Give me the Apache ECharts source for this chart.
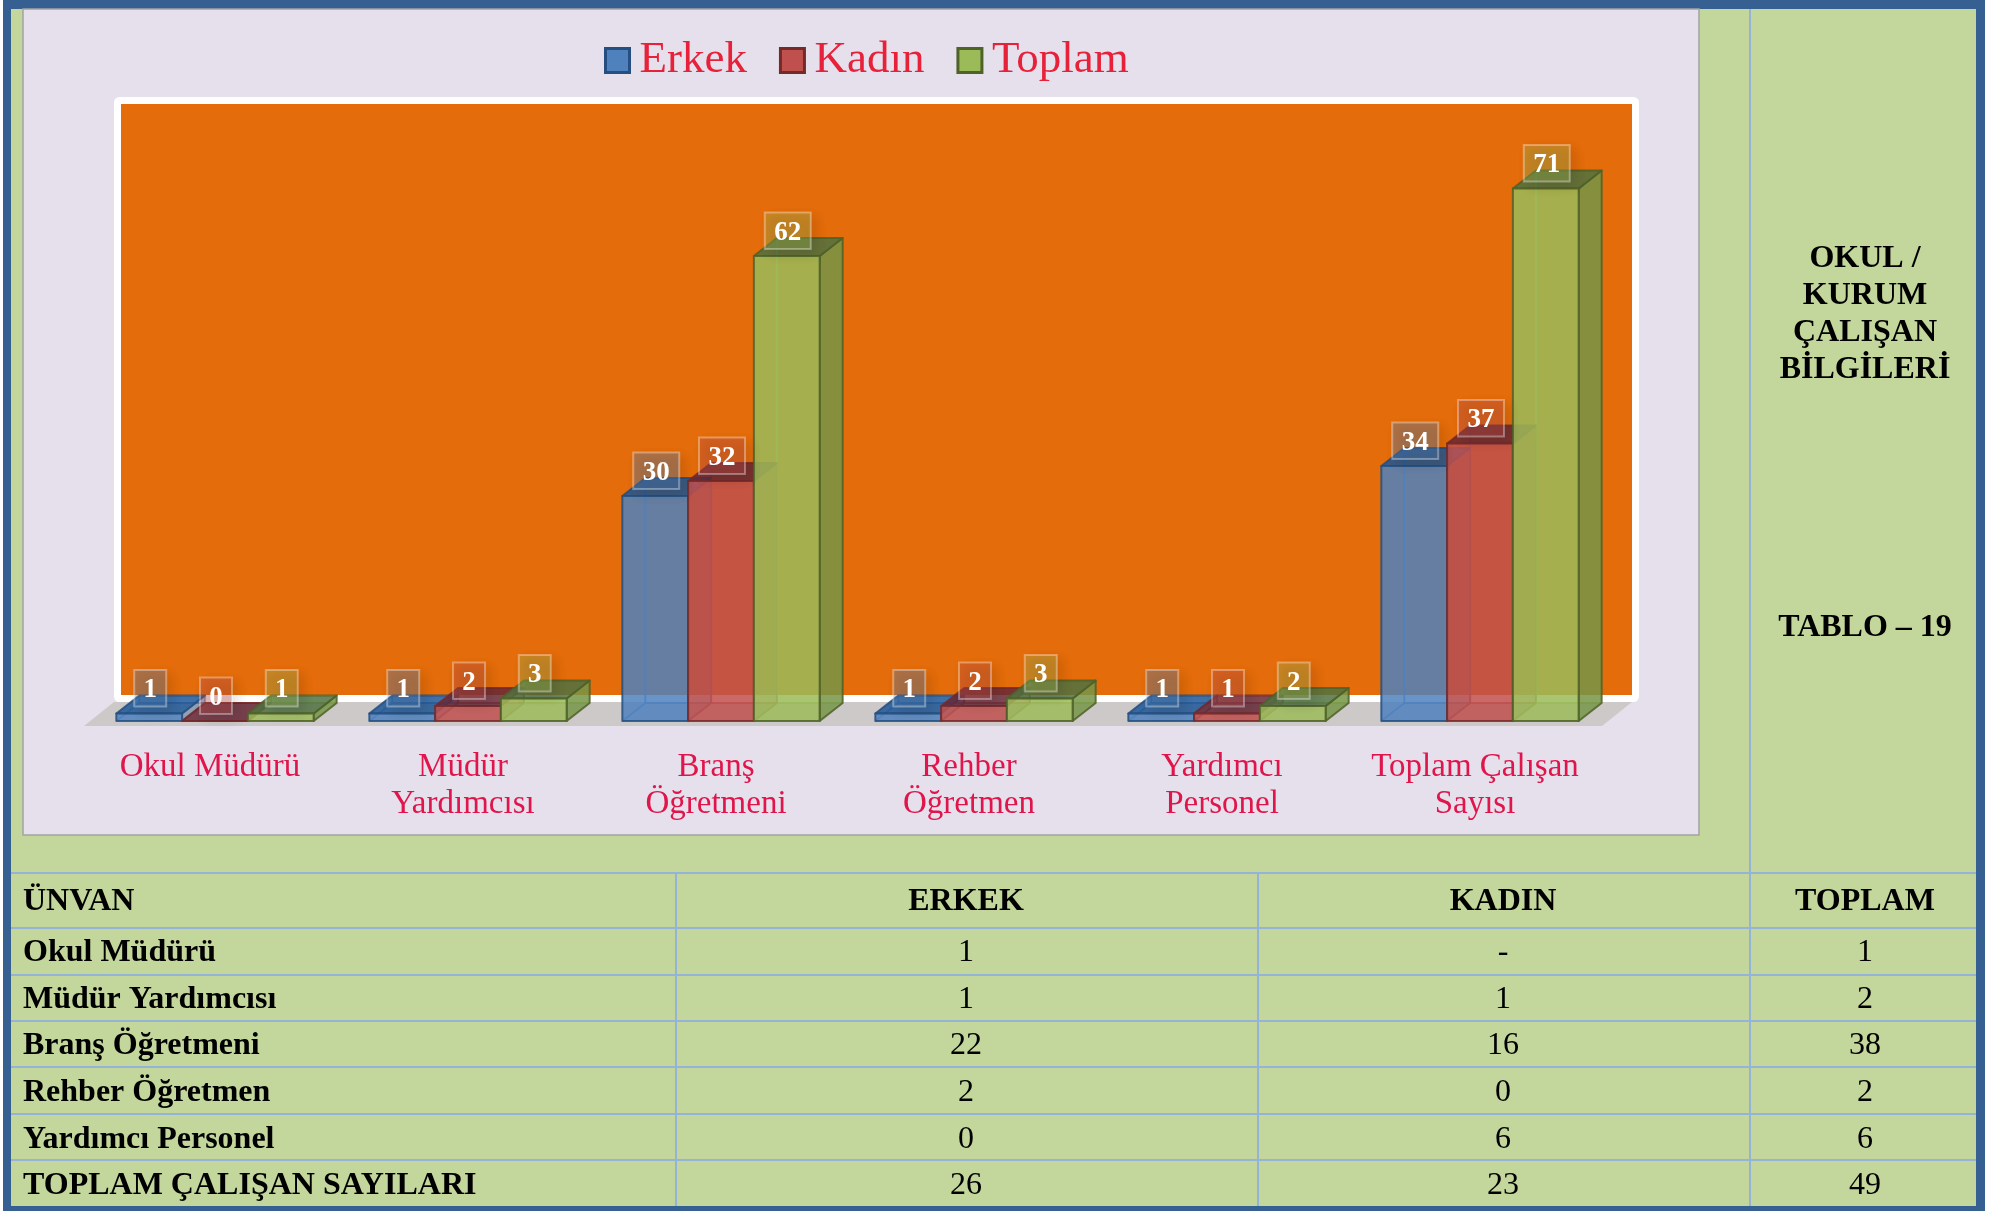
<!DOCTYPE html>
<html>
<head>
<meta charset="utf-8">
<title>Okul / Kurum Çalışan Bilgileri</title>
<script src="https://cdn.jsdelivr.net/npm/echarts@6/dist/echarts.min.js"></script>
<style>
  html, body { margin: 0; padding: 0; background: #fff; }
  #chart { width: 1996px; height: 1211px; }
</style>
</head>
<body>
<div id="chart"></div>
<script>
// grafik verileri
const categories = ['Okul Müdürü', 'Müdür\nYardımcısı', 'Branş\nÖğretmeni', 'Rehber\nÖğretmen', 'Yardımcı\nPersonel', 'Toplam Çalışan\nSayısı'];
const erkek = [1, 1, 30, 1, 1, 34];
const kadin = [0, 2, 32, 2, 1, 37];
const toplam = [1, 3, 62, 3, 2, 71];

// tablo verileri
const tableHead = ['ÜNVAN', 'ERKEK', 'KADIN', 'TOPLAM'];
const tableNames = ['Okul Müdürü', 'Müdür Yardımcısı', 'Branş Öğretmeni', 'Rehber Öğretmen', 'Yardımcı Personel', 'TOPLAM ÇALIŞAN SAYILARI'];
const tableErkek = ['1', '1', '22', '2', '0', '26'];
const tableKadin = ['-', '1', '16', '0', '6', '23'];
const tableToplam = ['1', '2', '38', '2', '6', '49'];
const sideTitle = ['OKUL /', 'KURUM', 'ÇALIŞAN', 'BİLGİLERİ'];
const sideNote = 'TABLO – 19';

const SERIF = '"Liberation Serif", serif';
const GREEN_BG = '#c3d69b';
const BLUE_BORDER = '#376092';
const LINE = '#95b3d7';

// 3B çubuk ayarları
const barRatio = 0.26;   // kategori genişliğine göre çubuk genişliği
const depthX = 23;
const depthY = 18;
const styles = [
  { base: '#4f81bd', side: '#3c6290', top: '#1e5797', edge: '#254f80', sideOpacity: 0.4 },
  { base: '#c0504d', side: '#923d3a', top: '#672837', edge: '#752a2a', sideOpacity: 0.4 },
  { base: '#9bbb59', side: '#759546', top: '#507242', edge: '#4f6228', sideOpacity: 0.85 },
];

function bar3d(seriesIndex) {
  const st = styles[seriesIndex];
  return function (params, api) {
    const band = api.size([1, 0])[0];
    const w = band * barRatio;
    const bottom = api.coord([api.value(0), 0]);
    const top = api.coord([api.value(0), api.value(1)]);
    const x0 = bottom[0] + (seriesIndex - 1.5) * w;
    const x1 = x0 + w;
    const y0 = bottom[1];
    const y1 = top[1];
    const text = String(api.value(1));
    const boxW = text.length > 1 ? 46 : 32;
    const edge = { stroke: st.edge, lineWidth: 2, lineJoin: 'round' };
    const poly = (pts, fill, z2, opacity) => ({
      type: 'polygon',
      z2: z2,
      shape: { points: pts },
      style: Object.assign({ fill: fill, opacity: opacity || 0.85 }, edge),
    });
    const back = (xa, ya, xb, yb) => ({
      type: 'line',
      z2: 11,
      shape: { x1: xa, y1: ya, x2: xb, y2: yb },
      style: { stroke: st.base, lineWidth: 2, opacity: 0.8 },
    });
    return {
      type: 'group',
      children: [
        back(x0 + depthX, y0 - depthY, x0 + depthX, y1 - depthY),
        back(x0, y0, x0 + depthX, y0 - depthY),
        back(x0 + depthX, y0 - depthY, x1 + depthX, y0 - depthY),
        poly([[x1, y1], [x1 + depthX, y1 - depthY], [x1 + depthX, y0 - depthY], [x1, y0]], st.side, 12, st.sideOpacity),
        poly([[x0, y1], [x0 + depthX, y1 - depthY], [x1 + depthX, y1 - depthY], [x1, y1]], st.top, 13),
        poly([[x0, y1], [x1, y1], [x1, y0], [x0, y0]], st.base, 14),
        {
          type: 'rect',
          z2: 50,
          shape: { x: (x0 + x1) / 2 - boxW / 2 + 1, y: y1 - 43.5, width: boxW, height: 36.5 },
          style: {
            fill: st.base,
            opacity: 0.34,
            stroke: '#fff',
            lineWidth: 2,
            shadowBlur: 12,
            shadowColor: 'rgba(0,0,0,0.3)',
            shadowOffsetX: 5,
            shadowOffsetY: 5,
          },
        },
        {
          type: 'text',
          z2: 51,
          style: {
            x: (x0 + x1) / 2 + 1,
            y: y1 - 23,
            text: text,
            fill: '#fff',
            font: 'bold 27px ' + SERIF,
            align: 'center',
            verticalAlign: 'middle',
          },
        },
      ],
    };
  };
}

function barSeries(name, values, index) {
  return {
    type: 'custom',
    name: name,
    renderItem: bar3d(index),
    encode: { x: 0, y: 1 },
    data: values.map((v, i) => [i, v]),
    itemStyle: { color: styles[index].base },
    clip: false,
  };
}

function rect(x, y, w, h, fill, z) {
  return { type: 'rect', silent: true, z: z || 0, shape: { x: x, y: y, width: w, height: h }, style: { fill: fill } };
}

function label(x, y, text, align, bold) {
  return {
    type: 'text',
    silent: true,
    z: 3,
    x: x,
    y: y,
    style: {
      text: text,
      fill: '#000',
      font: (bold ? 'bold ' : '') + '32px ' + SERIF,
      align: align,
      verticalAlign: 'middle',
    },
  };
}

// sayfa arka planı, panel, duvar ve zemin
const graphics = [
  rect(3, 0, 1982, 1211, BLUE_BORDER, 0),
  rect(11, 9, 1965, 1197, GREEN_BG, 0),
  { type: 'rect', silent: true, z: 0, shape: { x: 23, y: 9, width: 1676, height: 826 }, style: { fill: '#e5e0ec', stroke: '#a3a3a3', lineWidth: 1.5 } },
  { type: 'rect', silent: true, z: 0, shape: { x: 117.5, y: 100.5, width: 1518, height: 598, r: 2 }, style: { fill: '#e46c0a', stroke: '#fff', lineWidth: 7 } },
  { type: 'polygon', silent: true, z: 0, shape: { points: [[114, 702], [1632, 702], [1602, 726], [84, 726]] }, style: { fill: '#cdc9c9' } },
];

// tablo çizgileri
const rowLines = [873, 928, 975, 1021, 1067, 1114, 1160];
const rowCenters = [902, 953, 1000, 1046, 1093, 1140, 1186];
const colLines = [676, 1258];
const sideLine = 1750;
rowLines.forEach(y => graphics.push(rect(11, y - 1, 1965, 2, LINE, 1)));
colLines.forEach(x => graphics.push(rect(x - 1, 873, 2, 333, LINE, 1)));
graphics.push(rect(sideLine - 1, 9, 2, 1197, LINE, 1));

// tablo metinleri
const colCenters = [966, 1503, 1865];
graphics.push(label(23, rowCenters[0], tableHead[0], 'left', true));
[1, 2, 3].forEach(c => graphics.push(label(colCenters[c - 1], rowCenters[0], tableHead[c], 'center', true)));
tableNames.forEach((name, i) => {
  const y = rowCenters[i + 1];
  graphics.push(label(23, y, name, 'left', true));
  graphics.push(label(colCenters[0], y, tableErkek[i], 'center'));
  graphics.push(label(colCenters[1], y, tableKadin[i], 'center'));
  graphics.push(label(colCenters[2], y, tableToplam[i], 'center'));
});
sideTitle.forEach((t, i) => graphics.push(label(1865, 259 + i * 37, t, 'center', true)));
graphics.push(label(1865, 628, sideNote, 'center', true));

const myChart = echarts.init(document.getElementById('chart'), null, { renderer: 'canvas' });

myChart.setOption({
  animation: false,
  legend: {
    left: 599,
    top: 33,
    itemWidth: 24,
    itemHeight: 24,
    itemGap: 32,
    textStyle: { fontFamily: SERIF, fontSize: 45, color: '#e8213a', padding: [0, 0, 0, 5] },
    data: ['Erkek', 'Kadın', 'Toplam'].map((name, i) => ({
      name: name,
      icon: 'rect',
      itemStyle: { color: styles[i].base, borderColor: styles[i].edge, borderWidth: 3 },
    })),
  },
  grid: { left: 88.5, width: 1518, top: 121, height: 600 },
  xAxis: {
    type: 'category',
    data: categories,
    axisLine: { show: false },
    axisTick: { show: false },
    axisLabel: {
      interval: 0,
      margin: 28,
      fontFamily: SERIF,
      fontSize: 33,
      lineHeight: 37,
      color: '#e0154b',
      padding: [0, 10, 0, 0],
    },
  },
  yAxis: { type: 'value', min: 0, max: 80, show: false },
  graphic: { elements: graphics },
  series: [
    barSeries('Erkek', erkek, 0),
    barSeries('Kadın', kadin, 1),
    barSeries('Toplam', toplam, 2),
  ],
});
</script>
</body>
</html>
